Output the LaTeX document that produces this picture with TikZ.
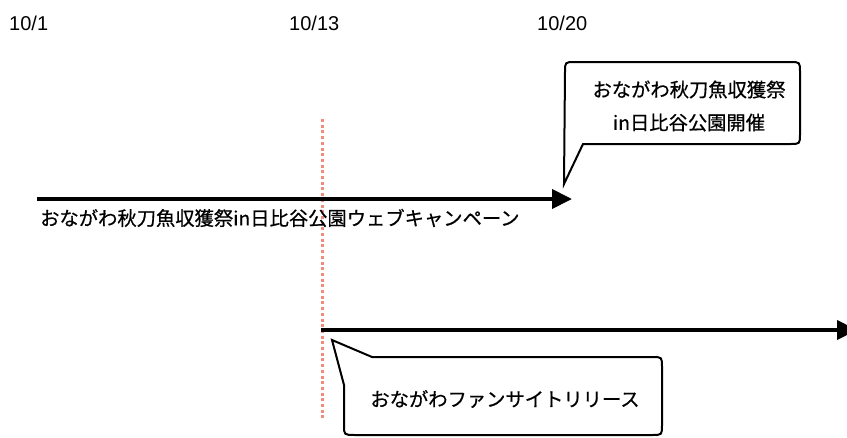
\documentclass[tikz,border=0pt]{standalone}
\usepackage{fontspec}
\setmainfont{Liberation Sans}
\newfontfamily\jpfont[FakeBold=0.6]{Noto Sans CJK JP}
\usetikzlibrary{arrows.meta}
\definecolor{dotred}{RGB}{240,140,125}
\tikzset{
  datelabel/.style={anchor=west,inner sep=0pt,font=\fontsize{20pt}{24pt}\selectfont},
  jplabel/.style={inner sep=0pt,font=\jpfont\fontsize{19.3pt}{23pt}\selectfont},
  timeline/.style={line width=4pt,-{Triangle[length=20pt,width=19pt]}},
  callout/.style={draw=black,line width=2pt,line join=miter,fill=white},
  marker/.style={draw=dotred,line width=3pt,dash pattern=on 3pt off 2.7pt}
}
\begin{document}
\begin{tikzpicture}[x=1pt,y=-1pt]
\useasboundingbox (0,0) rectangle (847,437);
\clip (0,0) rectangle (847,437);
% dates
\node[datelabel] (d1) at (9,23) {10/1};
\node[datelabel] (d13) at (289,23) {10/13};
\node[datelabel] (d20) at (537,23) {10/20};
% dotted marker line
\coordinate (mtop) at (322,119);
\coordinate (mbot) at (322,418);
\draw[marker] (mtop) -- (mbot);
% timeline 1
\coordinate (a1s) at (37,199);
\coordinate (a1e) at (572,199);
\draw[timeline] (a1s) -- (a1e);
\node[jplabel,anchor=west] (l1) at (40,218) {おながわ秋刀魚収獲祭in日比谷公園ウェブキャンペーン};
% timeline 2
\coordinate (a2s) at (321,330);
\coordinate (a2e) at (857,330);
\draw[timeline] (a2s) -- (a2e);
% callout 1
\draw[callout] (564,184) -- (565,72) .. controls (565,62) .. (575,62) -- (790,62)
  .. controls (800,62) .. (800,72) -- (800,134) .. controls (800,144) .. (790,144)
  -- (583,144) -- cycle;
\node[jplabel,align=center] (c1) at (689,106) {おながわ秋刀魚収獲祭\\[10pt]in日比谷公園開催};
% callout 2
\draw[callout] (332,340) -- (372,357) -- (652,357) .. controls (662,357) .. (662,367)
  -- (662,425) .. controls (662,435) .. (652,435) -- (355,435)
  .. controls (344,435) .. (344,425) -- (344,385) -- cycle;
\node[jplabel] (c2) at (505,399) {おながわファンサイトリリース};
\end{tikzpicture}
\end{document}
